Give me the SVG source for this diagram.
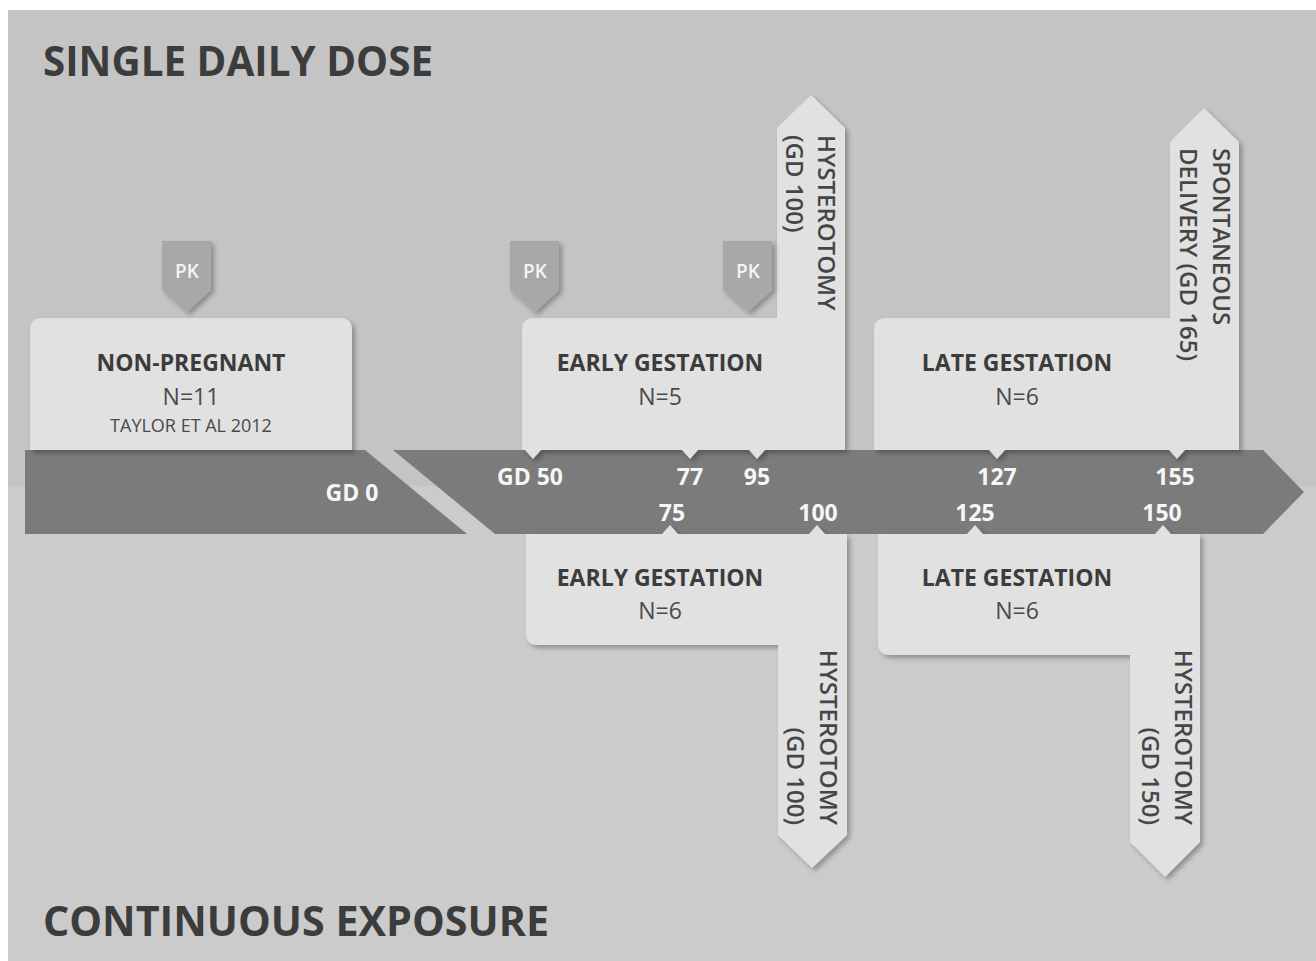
<svg xmlns="http://www.w3.org/2000/svg" width="1316" height="961" viewBox="0 0 1316 961">
<defs>
<filter id="sh" x="-10%" y="-10%" width="130%" height="130%">
<feGaussianBlur in="SourceAlpha" stdDeviation="2.5"/>
<feOffset dx="3" dy="3" result="b"/>
<feComponentTransfer><feFuncA type="linear" slope="0.3"/></feComponentTransfer>
<feMerge><feMergeNode/><feMergeNode in="SourceGraphic"/></feMerge>
</filter>
</defs>
<style>
.box{fill:#e1e1e1;filter:url(#sh)}
.band{fill:#7b7b7b}
.pk{fill:#a8a8a8;filter:url(#sh)}
.pkt{font-family:"Open Sans",sans-serif;font-size:19px;font-weight:600;fill:#f4f4f4;text-anchor:middle}
.title{font-family:"Open Sans",sans-serif;font-size:42px;font-weight:bold;fill:#3c3c3c}
.bh{font-family:"Open Sans",sans-serif;font-size:23px;font-weight:bold;fill:#3c3c3c;text-anchor:middle}
.bn{font-family:"Open Sans",sans-serif;font-size:23px;fill:#4a4a4a;text-anchor:middle}
.bs{font-family:"Open Sans",sans-serif;font-size:18px;fill:#4a4a4a;text-anchor:middle}
.tl{font-family:"Open Sans",sans-serif;font-size:23px;font-weight:bold;fill:#f6f6f6;text-anchor:middle}
.vt{font-family:"Open Sans",sans-serif;font-size:24px;font-weight:600;fill:#464646}
</style>
<rect x="0" y="0" width="1316" height="961" fill="#ffffff"/>
<rect x="8" y="10" width="1308" height="476" fill="#c4c4c4"/>
<rect x="8" y="486" width="1308" height="475" fill="#cbcbcb"/>

<text class="title" x="43" y="76" textLength="390" lengthAdjust="spacingAndGlyphs">SINGLE DAILY DOSE</text>
<text class="title" x="43" y="936" textLength="506" lengthAdjust="spacingAndGlyphs">CONTINUOUS EXPOSURE</text>

<g id="timeline">
<polygon class="band" points="25,450 365,450 467,534 25,534"/>
<polygon class="band" points="393,450 1263,450 1304,492 1263,534 495,534"/>
</g>

<g id="non-pregnant">
<path class="box" d="M30,450 V330 Q30,318 42,318 H340 Q352,318 352,330 V450 Z"/>
<text class="bh" x="191" y="371">NON-PREGNANT</text>
<text class="bn" x="191" y="405">N=11</text>
<text class="bs" x="191" y="432">TAYLOR ET AL 2012</text>
</g>

<g id="early-single">
<path class="box" d="M522,450 V330 Q522,318 534,318 H777 V128 L811,95 L845,128 V450 H765 L757,459 L749,450 H698 L690,459 L682,450 H541 L533,459 L525,450 Z"/>
<text class="bh" x="660" y="371">EARLY GESTATION</text>
<text class="bn" x="660" y="405">N=5</text>
<g transform="translate(818,135) rotate(90)"><text class="vt" x="0" y="0">HYSTEROTOMY</text></g>
<g transform="translate(786,135) rotate(90)"><text class="vt" x="0" y="0">(GD 100)</text></g>
</g>

<g id="late-single">
<path class="box" d="M874,450 V330 Q874,318 886,318 H1170 V142 L1204,108 L1239,142 V450 H1185 L1177,459 L1169,450 H1005 L997,459 L989,450 Z"/>
<text class="bh" x="1017" y="371">LATE GESTATION</text>
<text class="bn" x="1017" y="405">N=6</text>
<g transform="translate(1213,148) rotate(90)"><text class="vt" x="0" y="0">SPONTANEOUS</text></g>
<g transform="translate(1180,148) rotate(90)"><text class="vt" x="0" y="0">DELIVERY (GD 165)</text></g>
</g>

<g id="early-continuous">
<path class="box" d="M526,534 H662 L670,525 L678,534 H809 L817,525 L825,534 H847 V835 L812,868 L778,835 V645 H538 Q526,645 526,633 Z"/>
<text class="bh" x="660" y="586">EARLY GESTATION</text>
<text class="bn" x="660" y="619">N=6</text>
<g transform="translate(820,825) rotate(90)"><text class="vt" x="0" y="0" text-anchor="end">HYSTEROTOMY</text></g>
<g transform="translate(787,825) rotate(90)"><text class="vt" x="0" y="0" text-anchor="end">(GD 100)</text></g>
</g>

<g id="late-continuous">
<path class="box" d="M878,534 H967 L975,525 L983,534 H1155 L1163,525 L1171,534 H1200 V842 L1165,877 L1130,842 V655 H890 Q878,655 878,643 Z"/>
<text class="bh" x="1017" y="586">LATE GESTATION</text>
<text class="bn" x="1017" y="619">N=6</text>
<g transform="translate(1175,825) rotate(90)"><text class="vt" x="0" y="0" text-anchor="end">HYSTEROTOMY</text></g>
<g transform="translate(1142,825) rotate(90)"><text class="vt" x="0" y="0" text-anchor="end">(GD 150)</text></g>
</g>

<g id="timeline-labels">
<text class="tl" x="352" y="501">GD 0</text>
<text class="tl" x="530" y="485">GD 50</text>
<text class="tl" x="690" y="485">77</text>
<text class="tl" x="757" y="485">95</text>
<text class="tl" x="997" y="485">127</text>
<text class="tl" x="1175" y="485">155</text>
<text class="tl" x="672" y="521">75</text>
<text class="tl" x="818" y="521">100</text>
<text class="tl" x="975" y="521">125</text>
<text class="tl" x="1162" y="521">150</text>
</g>

<g id="pk-1">
<path class="pk" d="M162,241 H211 V290 L187,312 L162,290 Z"/>
<text class="pkt" x="187" y="278">PK</text>
</g>
<g id="pk-2">
<path class="pk" d="M510,241 H559 V290 L535,312 L510,290 Z"/>
<text class="pkt" x="535" y="278">PK</text>
</g>
<g id="pk-3">
<path class="pk" d="M723,241 H772 V290 L748,312 L723,290 Z"/>
<text class="pkt" x="748" y="278">PK</text>
</g>
</svg>
